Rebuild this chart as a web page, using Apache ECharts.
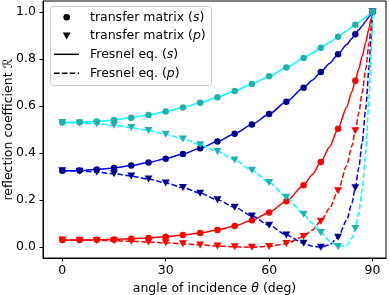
<!DOCTYPE html>
<html><head><meta charset="utf-8">
<script src="https://cdn.jsdelivr.net/npm/echarts@6/dist/echarts.min.js"></script>
<style>html,body{margin:0;padding:0;background:#fff}#c{width:390px;height:295px}</style>
</head><body><div id="c"></div>
<script>
// Fresnel-equation curves (angle in degrees)
const lineAngles=[0,5,10,15,20,25,30,35,40,45,50,55,60,65,70,72.5,75,77.5,80,82.5,84,85,86,87,88,89,89.5,90];
const redS=[0.0301,0.0304,0.0314,0.0332,0.0358,0.0395,0.0445,0.0513,0.0606,0.0732,0.0904,0.1144,0.1480,0.1957,0.2639,0.3085,0.3621,0.4264,0.5038,0.5966,0.6610,0.7080,0.7584,0.8126,0.8707,0.9331,0.9660,1];
const redP=[0.0301,0.0298,0.0288,0.0272,0.0249,0.0220,0.0184,0.0143,0.0098,0.0054,0.0016,0.0000,0.0030,0.0153,0.0457,0.0722,0.1103,0.1642,0.2401,0.3466,0.4299,0.4957,0.5710,0.6573,0.7562,0.8697,0.9326,1];
const blueS=[0.3248,0.3261,0.3302,0.3372,0.3470,0.3600,0.3764,0.3965,0.4206,0.4491,0.4827,0.5217,0.5668,0.6185,0.6777,0.7102,0.7448,0.7816,0.8205,0.8618,0.8877,0.9055,0.9236,0.9421,0.9610,0.9803,0.9901,1];
const blueP=[0.3248,0.3234,0.3193,0.3124,0.3026,0.2896,0.2733,0.2534,0.2297,0.2017,0.1695,0.1330,0.0932,0.0522,0.0162,0.0041,0.0001,0.0098,0.0425,0.1141,0.1867,0.2530,0.3380,0.4470,0.5869,0.7670,0.8759,1];
const cyanS=[0.5298,0.5311,0.5349,0.5413,0.5504,0.5621,0.5766,0.5939,0.6142,0.6376,0.6641,0.6939,0.7272,0.7639,0.8041,0.8255,0.8479,0.8711,0.8952,0.9201,0.9355,0.9459,0.9565,0.9672,0.9780,0.9889,0.9944,1];
const cyanP=[0.5298,0.5286,0.5247,0.5182,0.5088,0.4963,0.4804,0.4605,0.4361,0.4065,0.3706,0.3272,0.2750,0.2126,0.1400,0.1010,0.0620,0.0267,0.0030,0.0077,0.0385,0.0794,0.1450,0.2464,0.4013,0.6371,0.7988,1];

// transfer-matrix results (markers)
const markerAngles=[0,5,10,15,20,25,30,35,40,45,50,55,60,65,70,75,80,85,90];
const tmRedS=[0.0301,0.0304,0.0314,0.0332,0.0358,0.0395,0.0445,0.0513,0.0606,0.0732,0.0904,0.1144,0.1480,0.1957,0.2639,0.3621,0.5038,0.7080,1];
const tmRedP=[0.0301,0.0298,0.0288,0.0272,0.0249,0.0220,0.0184,0.0143,0.0098,0.0054,0.0016,0.0000,0.0030,0.0153,0.0457,0.1103,0.2401,0.4957,1];
const tmBlueS=[0.3248,0.3261,0.3302,0.3372,0.3470,0.3600,0.3764,0.3965,0.4206,0.4491,0.4827,0.5217,0.5668,0.6185,0.6777,0.7448,0.8205,0.9055,1];
const tmBlueP=[0.3248,0.3234,0.3193,0.3124,0.3026,0.2896,0.2733,0.2534,0.2297,0.2017,0.1695,0.1330,0.0932,0.0522,0.0162,0.0001,0.0425,0.2530,1];
const tmCyanS=[0.5298,0.5311,0.5349,0.5413,0.5504,0.5621,0.5766,0.5939,0.6142,0.6376,0.6641,0.6939,0.7272,0.7639,0.8041,0.8479,0.8952,0.9459,1];
const tmCyanP=[0.5298,0.5286,0.5247,0.5182,0.5088,0.4963,0.4804,0.4605,0.4361,0.4065,0.3706,0.3272,0.2750,0.2126,0.1400,0.0620,0.0030,0.0794,1];

const xTicks=[0,30,60,90];
const yTicks=[0,0.2,0.4,0.6,0.8,1.0];

const FONT='DejaVu Sans';
const pair=(xs,ys)=>xs.map((x,i)=>[x,ys[i]]);

function lineSeries(ys,color,dashed){
  return {type:'line',data:pair(lineAngles,ys),symbol:'none',showSymbol:false,
    smooth:0.25,smoothMonotone:'x',z:2,silent:true,
    lineStyle:{color:color,width:1.5,type:dashed?[5.5,2.4]:'solid'}};
}
function markerSeries(ys,color,tri){
  return {type:'scatter',data:pair(markerAngles,ys),z:3,silent:true,
    symbol:tri?'triangle':'circle',symbolRotate:tri?180:0,symbolSize:tri?[8,7]:6.5,
    itemStyle:{color:color,opacity:1}};
}

const chart=echarts.init(document.getElementById('c'),null,{renderer:'canvas'});
const rich={n:{fontFamily:FONT,fontSize:12.5,color:'#000'},i:{fontFamily:FONT,fontSize:12.5,fontStyle:'italic',color:'#000'}};
const legendX=54, legendTxt=90, rows=[17.3,36,54.3,73.3];
chart.setOption({
  animation:false,
  backgroundColor:'#fff',
  grid:{left:43,right:4,top:1,bottom:37,outerBoundsMode:'none',containLabel:false,show:true,borderColor:'#000',borderWidth:1,backgroundColor:'transparent'},
  xAxis:{type:'value',min:-5.6,max:93.9,
    name:'{n|angle of incidence }{i|θ}{n| (deg)}',nameLocation:'middle',nameGap:23,
    nameTextStyle:{rich:rich},
    axisLine:{show:true,onZero:false,lineStyle:{color:'#000',width:1}},
    axisTick:{show:true,customValues:xTicks,length:3.5,inside:false,lineStyle:{color:'#000',width:1}},
    axisLabel:{show:true,customValues:xTicks,margin:6,fontFamily:FONT,fontSize:12.5,color:'#000'},
    splitLine:{show:false}},
  yAxis:{type:'value',min:-0.046,max:1.047,
    name:'reflection coefficient ℛ',nameLocation:'middle',nameGap:28,nameRotate:90,nameMoveOverlap:false,
    nameTextStyle:{fontFamily:FONT,fontSize:12.5,color:'#000'},
    axisLine:{show:true,onZero:false,lineStyle:{color:'#000',width:1}},
    axisTick:{show:true,customValues:yTicks,length:3.5,lineStyle:{color:'#000',width:1}},
    axisLabel:{show:true,customValues:yTicks,margin:7,fontFamily:FONT,fontSize:12.5,color:'#000',
      formatter:v=>v.toFixed(1)},
    splitLine:{show:false}},
  series:[
    lineSeries(redS,'#ff0000',false),lineSeries(redP,'#ff0000',true),
    lineSeries(blueS,'#0000ff',false),lineSeries(blueP,'#0000ff',true),
    lineSeries(cyanS,'#00ffff',false),lineSeries(cyanP,'#00ffff',true),
    markerSeries(tmRedS,'#ff0000',false),markerSeries(tmRedP,'#ff0000',true),
    markerSeries(tmBlueS,'#00008b',false),markerSeries(tmBlueP,'#00008b',true),
    markerSeries(tmCyanS,'#20b2aa',false),markerSeries(tmCyanP,'#20b2aa',true)
  ],
  graphic:[{type:'group',z:100,children:[
    {type:'rect',shape:{x:50.5,y:6.5,width:161,height:79,r:3},style:{fill:'rgba(255,255,255,0.8)',stroke:'#cccccc',lineWidth:1}},
    {type:'circle',shape:{cx:66.7,cy:rows[0],r:3.3},style:{fill:'#000'}},
    {type:'polygon',shape:{points:[[62.8,rows[1]-3.5],[70.6,rows[1]-3.5],[66.7,rows[1]+3.5]]},style:{fill:'#000'}},
    {type:'line',shape:{x1:legendX,y1:rows[2],x2:79,y2:rows[2]},style:{stroke:'#000',lineWidth:1.5}},
    {type:'line',shape:{x1:legendX,y1:rows[3],x2:79,y2:rows[3]},style:{stroke:'#000',lineWidth:1.5,lineDash:[5.5,2.4]}},
    {type:'text',x:legendTxt,y:rows[0],style:{text:'{n|transfer matrix (}{i|s}{n|)}',rich:rich,verticalAlign:'middle'}},
    {type:'text',x:legendTxt,y:rows[1],style:{text:'{n|transfer matrix (}{i|p}{n|)}',rich:rich,verticalAlign:'middle'}},
    {type:'text',x:legendTxt,y:rows[2],style:{text:'{n|Fresnel eq. (}{i|s}{n|)}',rich:rich,verticalAlign:'middle'}},
    {type:'text',x:legendTxt,y:rows[3],style:{text:'{n|Fresnel eq. (}{i|p}{n|)}',rich:rich,verticalAlign:'middle'}}
  ]}]
});
</script></body></html>
